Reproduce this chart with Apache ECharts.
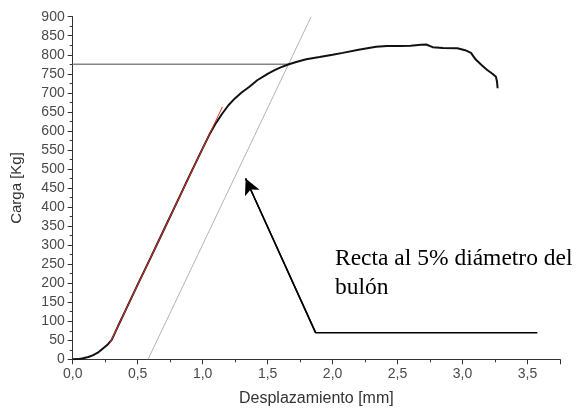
<!DOCTYPE html>
<html>
<head>
<meta charset="utf-8">
<script src="https://cdn.jsdelivr.net/npm/echarts@6/dist/echarts.min.js"></script>
<style>html,body{margin:0;padding:0;background:#fff}#c{width:579px;height:414px}</style>
</head>
<body>
<div id="c"></div>
<script>
// Measured load-displacement curve
var dispX = [0, 0.04, 0.08, 0.12, 0.158, 0.2, 0.235, 0.27, 0.30, 0.35, 0.4, 0.5, 0.6, 0.7, 0.8, 0.9, 1.0, 1.05, 1.094, 1.15, 1.2, 1.25, 1.3, 1.36, 1.42, 1.5, 1.55, 1.6, 1.664, 1.72, 1.797, 1.9, 2.0, 2.078, 2.2, 2.335, 2.42, 2.514, 2.6, 2.68, 2.72, 2.77, 2.85, 2.96, 3.02, 3.065, 3.10, 3.15, 3.19, 3.23, 3.257, 3.265, 3.27];
var loadY = [0, 0.5, 3, 6, 11, 19, 29, 39, 51, 88, 124, 196, 267, 339, 411, 483, 554, 589, 616, 645, 668, 686, 701, 716, 733, 750, 759, 767, 775, 781, 788, 794, 800, 805, 813, 821, 823, 823, 824, 826, 827, 820, 818, 817, 812, 805, 788, 772, 760, 750, 742, 730, 712];
// Linear fit (red)
var fitX = [0.286, 1.152];
var fitY = [42, 663];
// Offset line at 5% of bolt diameter
var offX = [0.58, 1.835];
var offY = [0, 900];
// Horizontal load level
var levelX = [0, 1.664];
var levelY = [775, 775];
// Annotation pointer (end, corner, tip)
var ptrX = [3.576, 1.869, 1.331];
var ptrY = [70, 70, 475];
var noteLines = ['Recta al 5% diámetro del', 'bulón'];
var xTicks = {min: 0, max: 3.75, interval: 0.5};
var yTicks = {min: 0, max: 900, interval: 50};

function zip(a, b) { return a.map(function (v, i) { return [v, b[i]]; }); }

var chart = echarts.init(document.getElementById('c'));
var axisCol = '#333';
var labCol = '#4a4a4a';
chart.setOption({
  animation: false,
  grid: {left: 72.7, right: 19, top: 16.7, bottom: 54.7, containLabel: false},
  xAxis: {
    type: 'value', min: xTicks.min, max: xTicks.max, interval: xTicks.interval,
    name: 'Desplazamiento [mm]', nameLocation: 'middle', nameGap: 31,
    nameTextStyle: {fontFamily: 'Liberation Sans', fontSize: 16, color: '#333'},
    axisLine: {show: true, onZero: false, lineStyle: {color: axisCol, width: 1}},
    axisTick: {show: true, inside: false, length: 5, lineStyle: {color: axisCol}},
    minorTick: {show: true, splitNumber: 2, length: 3, lineStyle: {color: axisCol}},
    splitLine: {show: false},
    axisLabel: {fontFamily: 'Liberation Sans', fontSize: 14, color: labCol, margin: 8, showMaxLabel: false,
      formatter: function (v) { return v.toFixed(1).replace('.', ','); }}
  },
  yAxis: {
    type: 'value', min: yTicks.min, max: yTicks.max, interval: yTicks.interval,
    name: 'Carga [Kg]', nameLocation: 'middle', nameGap: 48, nameRotate: 90,
    nameTextStyle: {fontFamily: 'Liberation Sans', fontSize: 15, color: '#333'},
    axisLine: {show: true, onZero: false, lineStyle: {color: axisCol, width: 1}},
    axisTick: {show: true, inside: false, length: 5, lineStyle: {color: axisCol}},
    minorTick: {show: true, splitNumber: 2, length: 3, lineStyle: {color: axisCol}},
    splitLine: {show: false},
    axisLabel: {fontFamily: 'Liberation Sans', fontSize: 14, color: labCol, margin: 8}
  },
  series: [
    {type: 'line', data: zip(offX, offY), showSymbol: false, silent: true,
      lineStyle: {color: '#b4b4b4', width: 1}},
    {type: 'line', data: zip(levelX, levelY), showSymbol: false, silent: true,
      lineStyle: {color: '#858585', width: 1.5}},
    {type: 'line', data: zip(dispX, loadY), showSymbol: false, silent: true,
      lineStyle: {color: '#111', width: 2}},
    {type: 'line', data: zip(fitX, fitY), showSymbol: false, silent: true,
      lineStyle: {color: '#e0302a', width: 1}},
    {type: 'line', data: zip(ptrX, ptrY), showSymbol: false, silent: true,
      lineStyle: {color: '#000', width: 1.5},
      markLine: {silent: true, symbol: ['none', 'arrow'], symbolSize: [12, 16], label: {show: false},
        lineStyle: {color: '#000', width: 1.5, type: 'solid'},
        data: [[{coord: [ptrX[1], ptrY[1]]}, {coord: [ptrX[2], ptrY[2]]}]]}}
  ],
  graphic: [
    {type: 'text', left: 335, top: 247, style: {text: noteLines[0], font: '23.5px "Liberation Serif"', fill: '#000'}},
    {type: 'text', left: 335, top: 276, style: {text: noteLines[1], font: '23.5px "Liberation Serif"', fill: '#000'}}
  ]
});
</script>
</body>
</html>
